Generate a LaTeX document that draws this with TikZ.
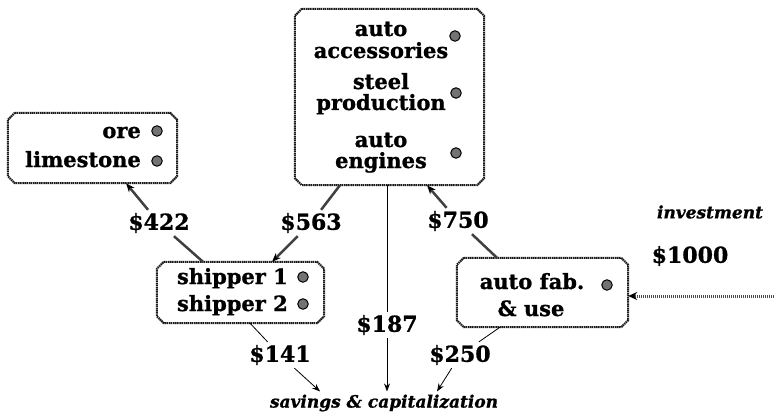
\documentclass[tikz,border=0pt]{standalone}
\usepackage{fontspec}
\setmainfont{DejaVu Serif}[BoldFeatures={FakeBold=1},BoldItalicFeatures={FakeBold=1}]
\usetikzlibrary{arrows.meta,calc}
\newcommand\octobox[2][7pt]{%
  \draw[boxline] ([xshift=#1]#2.north west) -- ([xshift=-#1]#2.north east)
    -- ([yshift=-#1]#2.north east) -- ([yshift=#1]#2.south east)
    -- ([xshift=-#1]#2.south east) -- ([xshift=#1]#2.south west)
    -- ([yshift=#1]#2.south west) -- ([yshift=-#1]#2.north west) -- cycle;}
\begin{document}
\begin{tikzpicture}[x=1pt,y=-1pt,
  box/.style={rectangle, draw=none, inner sep=0pt},
  boxline/.style={draw=black!90, line width=2pt, dash pattern=on 1.5pt off 0.6pt},
  txt/.style={font=\fontsize{21}{23}\selectfont\bfseries, inner sep=0pt},
  lbl/.style={font=\fontsize{22}{24}\selectfont\bfseries, inner sep=3pt},
  itl/.style={font=\fontsize{17}{19}\selectfont\bfseries\itshape, inner sep=3pt},
  dot/.style={circle, minimum size=10.5pt, inner sep=0pt, fill=black!55, draw=black, line width=1pt},
  flow/.style={line width=2.5pt, draw=black!75},
  flowarr/.style={flow, -{Stealth[black,length=9pt,width=7pt]}},
  thinline/.style={line width=0.8pt, draw=black},
  thinarr/.style={thinline, -{Stealth[length=8pt,width=6pt]}},
  dotarr/.style={line width=3pt, draw=black!70, dash pattern=on 1pt off 1pt, -{Stealth[black,length=9pt,width=8pt]}},
]
\path[use as bounding box] (0,0) rectangle (774,412);

% boxes
\node[box, minimum width=169pt, minimum height=70pt] (ore) at (92.5,148) {};
\node[box, minimum width=189pt, minimum height=176pt] (big) at (389.5,97) {};
\node[box, minimum width=167pt, minimum height=61pt] (ship) at (240.5,292.5) {};
\node[box, minimum width=171pt, minimum height=69pt] (fab) at (542.5,292.5) {};
\octobox{ore}
\octobox{big}
\octobox{ship}
\octobox{fab}

% ore box
\node[txt, anchor=base east] (t-ore) at (141,138) {ore};
\node[txt, anchor=base east] (t-lime) at (141,167) {limestone};
\node[dot] (d-ore) at (157,131) {};
\node[dot] (d-lime) at (157,161) {};

% big box
\node[txt, anchor=base] (t-a1) at (381,36) {auto};
\node[txt, anchor=base] (t-acc) at (381,58) {accessories};
\node[txt, anchor=base] (t-st) at (381,89) {steel};
\node[txt, anchor=base] (t-prod) at (381,110) {production};
\node[txt, anchor=base] (t-a2) at (381,147) {auto};
\node[txt, anchor=base] (t-eng) at (381,168) {engines};
\node[dot] (d-acc) at (455,36) {};
\node[dot] (d-st) at (456,93) {};
\node[dot] (d-eng) at (456,153) {};

% shipper box
\node[txt, anchor=base east] (t-s1) at (288,284) {shipper 1};
\node[txt, anchor=base east] (t-s2) at (288,311) {shipper 2};
\node[dot] (d-s1) at (303,277) {};
\node[dot] (d-s2) at (303,304) {};

% auto fab box
\node[txt, anchor=base] (t-fab) at (532,289) {auto fab.};
\node[txt, anchor=base] (t-use) at (531,316) {\& use};
\node[dot] (d-fab) at (607,285) {};

% labels
\node[lbl] (l422) at (159,223) {\$422};
\node[lbl] (l563) at (311,223) {\$563};
\node[lbl] (l750) at (458,221) {\$750};
\node[lbl] (l187) at (387,325) {\$187};
\node[lbl] (l141) at (280,355) {\$141};
\node[lbl] (l250) at (460,355) {\$250};
\node[lbl] (l1000) at (690,256) {\$1000};
\node[itl] (inv) at (710,212) {investment};
\node[itl] (sav) at (384,403) {savings \& capitalization};
\coordinate (src) at (774,296);

% connectors
\draw[flow] ([xshift=-37.5pt]ship.north) -- (l422);
\draw[flowarr] (l422) -- ([xshift=33.5pt]ore.south);
\draw[flow] ([xshift=-49.5pt]big.south) -- (l563);
\draw[flowarr] (l563) -- ([xshift=31.5pt]ship.north);
\draw[flow] ([xshift=-45.5pt]fab.north) -- (l750);
\draw[flowarr] (l750) -- ([xshift=37.5pt]big.south);
\draw[thinline] ([xshift=-2.5pt]big.south) -- (l187);
\draw[thinarr] (l187) -- ([xshift=3pt]sav.north);
\draw[thinline] ([xshift=9.5pt]ship.south) -- (l141);
\draw[thinarr] (l141) -- ([xshift=-64pt]sav.north);
\draw[thinline] ([xshift=-42.5pt]fab.south) -- (l250);
\draw[thinarr] (l250) -- ([xshift=53pt]sav.north);
\draw[dotarr] (src) -- (src -| fab.east);
\end{tikzpicture}
\end{document}
